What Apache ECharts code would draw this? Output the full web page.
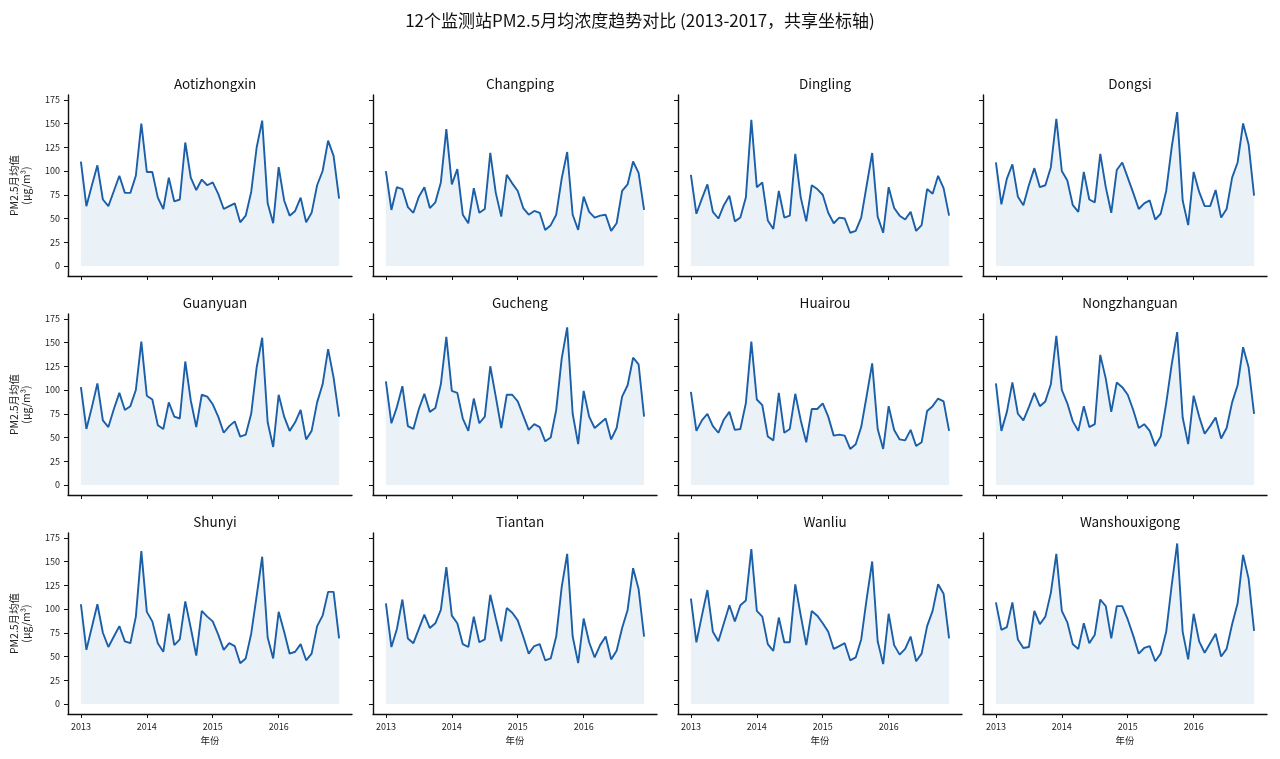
<!DOCTYPE html>
<html><head><meta charset="utf-8">
<script src="https://cdn.jsdelivr.net/npm/echarts@6/dist/echarts.min.js"></script>
<style>html,body{margin:0;padding:0;background:#fff}#c{width:1280px;height:759px}</style>
</head><body><div id="c"></div>
<script>
const stations = ["Aotizhongxin","Changping","Dingling","Dongsi","Guanyuan","Gucheng","Huairou","Nongzhanguan","Shunyi","Tiantan","Wanliu","Wanshouxigong"];
const yearTicks = [0,12,24,36];
const yearLabels = ["2013","2014","2015","2016"];
const yTicks = [0,25,50,75,100,125,150,175];
const Aotizhongxin = [110,63,85,106,70,63,79,95,77,77,95,150,99,99,72,60,93,68,70,130,93,80,91,85,88,76,60,63,66,46,53,78,125,153,66,45,104,69,53,58,72,46,56,85,100,132,116,71];
const Changping = [100,59,83,81,62,56,73,83,61,67,88,144,86,102,54,45,82,56,60,119,77,52,96,87,79,61,54,58,56,38,43,54,92,120,54,38,73,57,51,53,54,37,45,79,86,110,98,59];
const Dingling = [96,55,71,86,57,50,64,74,47,51,72,154,83,88,48,39,79,51,53,118,72,47,85,81,75,56,45,51,50,35,37,51,85,119,52,35,83,61,53,49,57,37,43,81,76,95,82,53];
const Dongsi = [109,65,92,107,73,64,85,103,83,85,104,155,100,90,64,57,99,70,67,118,83,56,101,109,93,77,60,66,69,49,55,79,125,162,69,43,99,78,63,63,80,51,60,93,109,150,128,74];
const Guanyuan = [103,59,82,107,68,61,80,97,79,83,100,151,94,90,63,59,87,72,70,130,89,61,95,93,85,72,55,62,67,51,53,75,124,155,66,40,95,72,57,66,79,48,57,87,106,143,113,72];
const Gucheng = [109,65,82,104,62,59,80,96,77,81,106,156,99,97,70,57,91,65,72,125,93,60,95,95,88,73,58,64,61,46,50,79,133,166,75,43,99,72,60,65,70,48,60,93,105,134,127,72];
const Huairou = [98,57,68,75,62,55,69,77,58,59,86,151,90,84,51,47,97,55,59,96,68,45,80,80,86,72,52,53,52,38,43,61,94,128,59,38,83,58,48,47,58,41,45,78,83,91,88,57];
const Nongzhanguan = [107,57,77,108,75,68,82,97,83,88,106,157,100,86,67,57,83,61,64,137,112,77,108,103,95,79,60,64,57,41,51,86,127,161,71,43,94,72,54,62,71,49,60,87,105,145,124,75];
const Shunyi = [105,57,81,105,75,60,71,82,66,64,92,161,97,87,64,55,95,62,68,108,80,51,98,92,87,73,57,64,61,43,48,74,114,155,70,48,97,76,53,55,63,46,53,82,93,118,118,69];
const Tiantan = [106,60,79,110,69,64,79,94,80,85,99,144,93,85,63,60,92,65,68,115,90,66,101,96,88,71,53,61,63,46,48,71,123,158,71,43,90,65,49,62,71,47,56,80,99,143,121,71];
const Wanliu = [111,65,93,120,76,66,85,104,87,104,109,163,98,92,63,56,91,65,65,126,93,62,98,93,85,76,58,61,64,46,49,68,111,150,66,42,95,62,52,58,71,45,53,82,98,126,116,69];
const Wanshouxigong = [107,78,81,107,68,59,60,98,84,92,117,158,98,86,63,58,85,64,73,110,103,69,103,103,89,72,53,59,61,45,53,76,125,169,76,47,95,66,54,64,74,50,58,84,106,157,132,77];
const seriesData = [Aotizhongxin,Changping,Dingling,Dongsi,Guanyuan,Gucheng,Huairou,Nongzhanguan,Shunyi,Tiantan,Wanliu,Wanshouxigong];

const FONT = '"Noto Sans CJK SC", "Noto Sans", sans-serif';
const lefts=[68,373,678,983], tops=[95,314,533], W=284, H=181;
const grids=[],xAxes=[],yAxes=[],series=[],titles=[{text:'12个监测站PM2.5月均浓度趋势对比 (2013-2017，共享坐标轴)',left:'center',top:7,textStyle:{fontFamily:FONT,fontSize:17,fontWeight:'normal',color:'#111'}}];
const axLine={show:true,onZero:false,lineStyle:{color:'#111',width:1.4}};
stations.forEach((s,i)=>{
  const r=Math.floor(i/4),c=i%4;
  grids.push({left:lefts[c],top:tops[r],width:W,height:H});
  titles.push({text:s,left:lefts[c]+W/2,textAlign:'center',top:tops[r]-23,textStyle:{fontFamily:FONT,fontSize:13.5,fontWeight:'normal',color:'#111'}});
  xAxes.push({type:'value',gridIndex:i,min:-2.35,max:49.35,splitLine:{show:false},axisLine:axLine,
    axisTick:{show:true,length:4,lineStyle:{color:'#111'},customValues:yearTicks},
    axisLabel:{show:r===2,fontSize:9,color:'#222',fontFamily:FONT,customValues:yearTicks,formatter:v=>yearLabels[yearTicks.indexOf(v)]},
    name:r===2?'年份':'',nameLocation:'middle',nameGap:22,nameTextStyle:{fontFamily:FONT,fontSize:9.5,color:'#222'}});
  yAxes.push({type:'value',gridIndex:i,min:-10.5,max:180,splitLine:{show:false},axisLine:axLine,
    axisTick:{show:true,length:4,lineStyle:{color:'#111'},customValues:yTicks},
    axisLabel:{show:c===0,fontSize:9,color:'#222',fontFamily:FONT,customValues:yTicks},
    name:c===0?'PM2.5月均值\n(μg/m³)':'',nameLocation:'middle',nameGap:36,nameTextStyle:{fontFamily:FONT,fontSize:10.5,color:'#222',lineHeight:12}});
  series.push({type:'line',xAxisIndex:i,yAxisIndex:i,data:seriesData[i].map((v,k)=>[k,v]),showSymbol:false,
    lineStyle:{color:'#1b5fa8',width:1.9},itemStyle:{color:'#1b5fa8'},
    areaStyle:{color:'rgba(27,95,168,0.13)',origin:0},animation:false});
});
const chart=echarts.init(document.getElementById('c'));
chart.setOption({animation:false,title:titles,grid:grids,xAxis:xAxes,yAxis:yAxes,series:series});
</script></body></html>
